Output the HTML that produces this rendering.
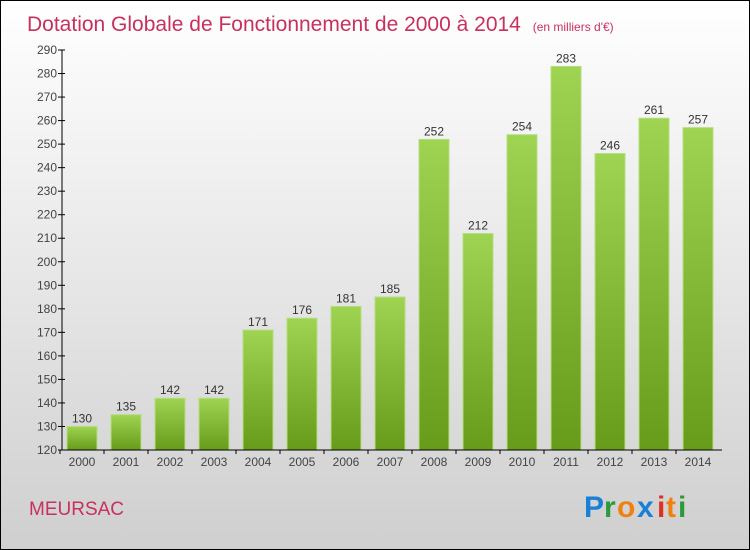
<!DOCTYPE html>
<html><head><meta charset="utf-8"><style>
body{margin:0}
#c{position:relative;width:748px;height:548px;border:1px solid #000;background:linear-gradient(#ffffff,#cfcfcf);font-family:"Liberation Sans",sans-serif;overflow:hidden}
</style></head><body>
<div id="c">
<svg id="s" width="748" height="548" style="position:absolute;left:0;top:0">
<defs><linearGradient id="g" x1="0" y1="0" x2="0" y2="1"><stop offset="0" stop-color="#9fd452"/><stop offset="1" stop-color="#669c1a"/></linearGradient></defs>
<text x="26" y="30" font-size="21" fill="#c8305e">Dotation Globale de Fonctionnement de 2000 à 2014 <tspan font-size="12" dx="6">(en milliers d'€)</tspan></text>
<text x="28" y="514" font-size="19" fill="#c8305e">MEURSAC</text>
<g font-size="30" font-weight="bold">
<text x="583" y="516" fill="#1a7fd6">P</text><text x="603" y="516" fill="#2a9a3a">r</text><text x="616" y="516" fill="#f08010">o</text><text x="636" y="516" fill="#1a7fd6">x</text><text x="656" y="516" fill="#e03020">i</text><text x="665" y="516" fill="#f08010">t</text><text x="677" y="516" fill="#2a9a3a">i</text></g>
<g id="plot"></g>
</svg>
</div>
<script>
const years=["2000","2001","2002","2003","2004","2005","2006","2007","2008","2009","2010","2011","2012","2013","2014"];
const values=[130,135,142,142,171,176,181,185,252,212,254,283,246,261,257];
const ticks=[120,130,140,150,160,170,180,190,200,210,220,230,240,250,260,270,280,290];
const ns="http://www.w3.org/2000/svg";
const g=document.getElementById('plot');
const x0=59,x1=719,yTop=49,yBot=449,vMin=120,vMax=290,axX=61;
const y=v=>yBot-(v-vMin)/(vMax-vMin)*(yBot-yTop);
const step=(x1-x0)/years.length;
const xc=i=>x0+step*(i+0.5);
function el(t,a){const e=document.createElementNS(ns,t);for(const k in a)e.setAttribute(k,a[k]);g.appendChild(e);return e;}
ticks.forEach(t=>{
 const l=el('line',{x1:axX-4,x2:axX+3,y1:y(t),y2:y(t),stroke:'#000'});
 
 
 const tx=el('text',{x:axX-5,y:y(t)+4,'font-size':12,fill:'#444','text-anchor':'end'});
 tx.textContent=t;
 
 
});
values.forEach((v,i)=>{
 const r=el('rect',{x:xc(i)-15,y:y(v),width:30,height:yBot-y(v),fill:'url(#g)',stroke:'#b5dd80','stroke-width':1});
 
 
 const t=el('text',{x:xc(i),y:y(v)-4,'font-size':12,fill:'#333','text-anchor':'middle'});
 t.textContent=v;
 
 
 const yl=el('text',{x:xc(i),y:yBot+16,'font-size':12,fill:'#444','text-anchor':'middle'});
 yl.textContent=years[i];
 
 
 const tk=el('line',{x1:xc(i)-step/2,x2:xc(i)-step/2,y1:yBot,y2:yBot+4,stroke:'#000'});
 
 
});
const ya=el('line',{x1:axX,x2:axX,y1:yTop,y2:yBot,stroke:'#000'});


const xa=el('line',{x1:axX,x2:x1+2,y1:yBot,y2:yBot,stroke:'#000'});


</script>
</body></html>
